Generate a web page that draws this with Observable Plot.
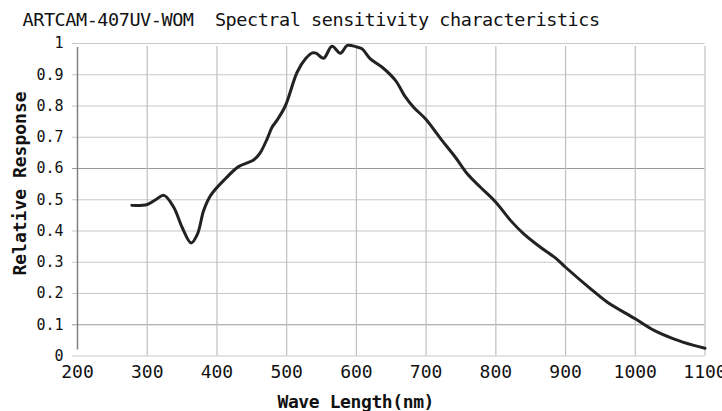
<!DOCTYPE html>
<html>
<head>
<meta charset="utf-8">
<script src="https://cdn.jsdelivr.net/npm/d3@7"></script>
<script src="https://cdn.jsdelivr.net/npm/@observablehq/plot@0.6"></script>
<style>
  html, body { margin: 0; padding: 0; background: #fff; }
  #chart svg { display: block; }
</style>
</head>
<body>
<div id="chart"></div>
<script>
const titleText = "ARTCAM-407UV-WOM  Spectral sensitivity characteristics";
const xLabel = "Wave Length(nm)";
const yLabel = "Relative Response";

const xTicks = [200, 300, 400, 500, 600, 700, 800, 900, 1000, 1100];
const yTicks = [0, 0.1, 0.2, 0.3, 0.4, 0.5, 0.6, 0.7, 0.8, 0.9, 1];
const yTicksDark = [0.1, 0.6];

const wavelength = [278, 300, 312, 324, 338, 350, 363, 372, 381, 391, 412, 431, 453, 462, 472, 479, 486, 498, 515, 527, 537, 542, 553, 565, 577, 587, 599, 608, 620, 637, 656, 670, 682, 699, 721, 742, 759, 778, 800, 821, 840, 864, 887, 900, 936, 960, 1000, 1027, 1055, 1084, 1100];
const response = [0.482, 0.485, 0.50, 0.514, 0.476, 0.412, 0.362, 0.39, 0.466, 0.514, 0.567, 0.606, 0.628, 0.65, 0.695, 0.732, 0.754, 0.80, 0.908, 0.951, 0.970, 0.969, 0.953, 0.991, 0.969, 0.994, 0.99, 0.983, 0.951, 0.924, 0.882, 0.830, 0.796, 0.759, 0.695, 0.636, 0.583, 0.540, 0.492, 0.434, 0.391, 0.348, 0.311, 0.284, 0.215, 0.172, 0.119, 0.082, 0.055, 0.034, 0.025];

const data = wavelength.map((w, i) => ({w, r: response[i]}));
const mono = "'DejaVu Sans Mono', 'Liberation Mono', monospace";

const chart = Plot.plot({
  width: 722,
  height: 411,
  marginLeft: 77,
  marginRight: 17.5,
  marginTop: 43,
  marginBottom: 55.5,
  style: {fontFamily: mono, background: "#fff", overflow: "visible"},
  x: {domain: [200, 1100]},
  y: {domain: [0, 1]},
  marks: [
    Plot.ruleY(yTicks.filter(d => !yTicksDark.includes(d)), {x1: 200, x2: 1100, insetLeft: -5, stroke: "#c8c8c8", strokeWidth: 1.2, strokeOpacity: 1}),
    Plot.ruleY(yTicksDark, {x1: 200, x2: 1100, insetLeft: -5, stroke: "#9a9a9a", strokeWidth: 1.2, strokeOpacity: 1}),
    Plot.ruleX(xTicks.filter(d => d !== 200), {y1: 0, y2: 1, insetBottom: -3, stroke: "#c0c0c0", strokeWidth: 1.2, strokeOpacity: 1}),
    Plot.ruleX([200], {y1: 0, y2: 1, insetTop: -6, insetBottom: -4, stroke: "#808080", strokeWidth: 1.5, strokeOpacity: 1}),
    Plot.axisY(yTicks, {label: null, tickSize: 0, tickPadding: 14, fontSize: 15, fill: "#111", tickFormat: d => d === 0 ? "0" : d === 1 ? "1" : d.toFixed(1)}),
    Plot.axisX(xTicks, {label: null, tickSize: 0, tickPadding: 9, fontSize: 18, fill: "#111", tickFormat: d => String(d)}),
    Plot.line(data, {x: "w", y: "r", stroke: "#222", strokeWidth: 3, curve: "catmull-rom"}),
    Plot.text([titleText], {frameAnchor: "top-left", dx: -55, dy: -18, textAnchor: "start", fontSize: 18.5, fill: "#111", lineAnchor: "bottom", style: {letterSpacing: "-0.45px"}}),
    Plot.text([xLabel], {frameAnchor: "bottom-left", dx: 200, dy: 52, textAnchor: "start", fontSize: 18, fontWeight: "bold", fill: "#111", lineAnchor: "bottom"}),
    Plot.text([yLabel], {frameAnchor: "top-left", dx: -57, dy: 140, rotate: -90, textAnchor: "middle", fontSize: 18, fontWeight: "bold", fill: "#111", lineAnchor: "middle"})
  ]
});
chart.querySelectorAll("text").forEach(t => {
  if (t.textContent === titleText) t.style.letterSpacing = "-0.45px";
  if (t.textContent === xLabel) t.style.letterSpacing = "-0.4px";
});
document.getElementById("chart").appendChild(chart);
</script>
</body>
</html>
